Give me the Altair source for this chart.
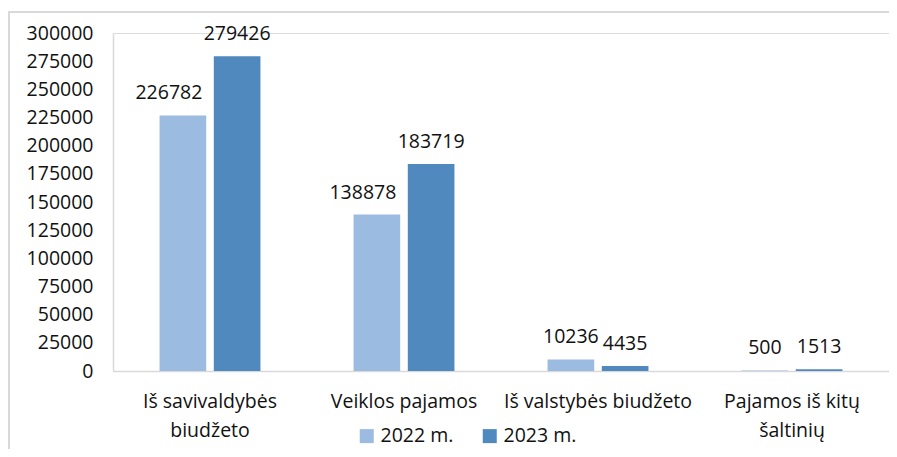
import altair as alt
import pandas as pd

categories = ["Iš savivaldybės|biudžeto", "Veiklos pajamos", "Iš valstybės biudžeto", "Pajamos iš kitų|šaltinių"]
years = ["2022 m.", "2023 m."]
values_2022 = [226782, 138878, 10236, 500]
values_2023 = [279426, 183719, 4435, 1513]
colors = ["#9BBBE0", "#4F89BE"]
# labels nudged left (as the source tool did to avoid crowding)
nudged = ["Iš savivaldybės|biudžeto", "Veiklos pajamos"]

rows = []
for c, a, b in zip(categories, values_2022, values_2023):
    rows.append({"cat": c, "year": years[0], "val": a, "nudge": c in nudged})
    rows.append({"cat": c, "year": years[1], "val": b, "nudge": False})
df = pd.DataFrame(rows)

FONT = "Open Sans"
FS = 19.5
TXT = "#111111"

x = alt.X("cat:N", sort=categories, title=None,
          scale=alt.Scale(paddingInner=0.48, paddingOuter=0.24),
          axis=alt.Axis(labelExpr="split(datum.label, '|')", labelAngle=0,
                        labelFontSize=FS, labelColor=TXT, labelFont=FONT,
                        labelLimit=400,
                        domainColor="#D9D9D9", domainWidth=1.5, ticks=False,
                        labelPadding=21, labelLineHeight=29))
xo = alt.XOffset("year:N", sort=years, scale=alt.Scale(paddingInner=0.14))
y = alt.Y("val:Q", title=None,
          scale=alt.Scale(domain=[0, 300000], nice=False),
          axis=alt.Axis(values=list(range(0, 300001, 25000)), grid=False,
                        ticks=False, labelFontSize=FS, labelColor=TXT,
                        labelFont=FONT, domainColor="#D9D9D9", domainWidth=1.5,
                        labelPadding=20, format="d"))

base = alt.Chart(df)
bars = base.mark_bar().encode(
    x=x, xOffset=xo, y=y,
    color=alt.Color("year:N", sort=years,
                    scale=alt.Scale(domain=years, range=colors),
                    legend=alt.Legend(title=None, orient="none", direction="horizontal",
                                      legendX=244, legendY=393, symbolType="square",
                                      symbolSize=196, symbolStrokeWidth=0,
                                      labelFontSize=FS, labelFont=FONT,
                                      labelColor=TXT, columnPadding=26,
                                      labelOffset=4)),
)
labels = base.transform_filter("!datum.nudge").mark_text(
    baseline="bottom", dy=-12, fontSize=FS, font=FONT, color=TXT).encode(
    x=x, xOffset=xo, y=y, text=alt.Text("val:Q", format="d"),
)
labels_nudged = base.transform_filter("datum.nudge").mark_text(
    baseline="bottom", dy=-12, dx=-14, fontSize=FS, font=FONT, color=TXT).encode(
    x=x, xOffset=xo, y=y, text=alt.Text("val:Q", format="d"),
)

border_top = alt.Chart().mark_rule(color="#D9D9D9", strokeWidth=2).encode(
    x=alt.value(-105), x2=alt.value(800), y=alt.value(-21))
border_left = alt.Chart().mark_rule(color="#D9D9D9", strokeWidth=2).encode(
    x=alt.value(-104), y=alt.value(-22), y2=alt.value(420))

chart = alt.layer(bars, labels, labels_nudged, border_top, border_left).properties(
    width=776, height=338,
    autosize=alt.AutoSizeParams(type="none"),
    padding={"left": 105, "top": 25, "right": 0, "bottom": 78},
).configure_view(stroke=None).configure(font=FONT)

chart.save("out.html", embed_options={"renderer": "svg", "actions": False})
